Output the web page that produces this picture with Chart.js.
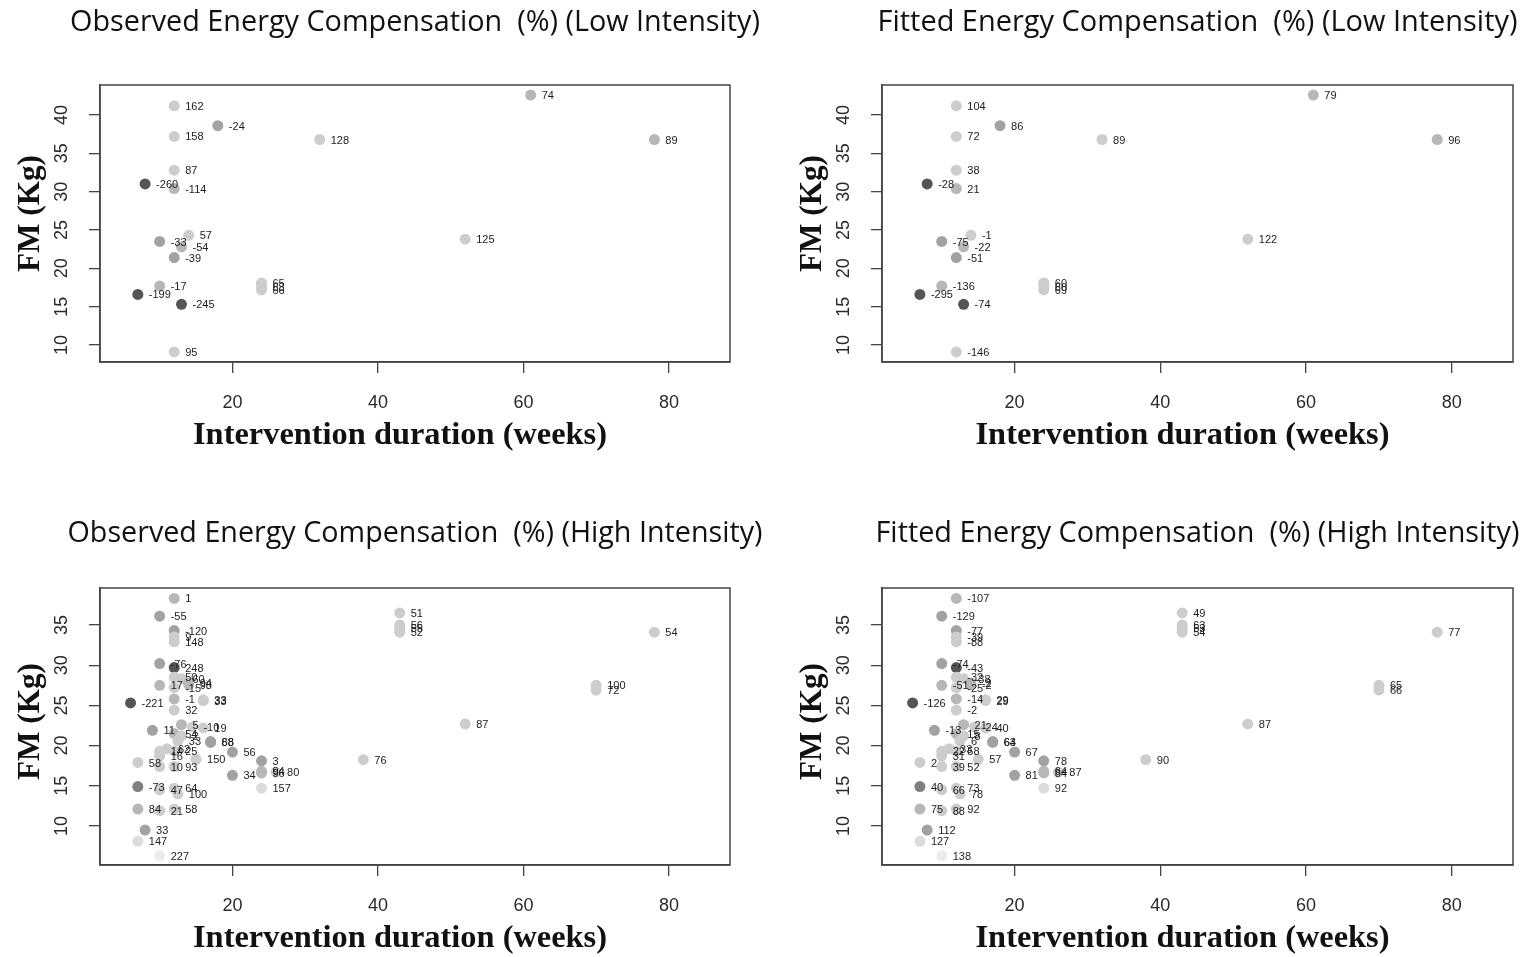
<!DOCTYPE html>
<html>
<head>
<meta charset="utf-8">
<script src="https://cdn.jsdelivr.net/npm/chart.js@4.4.1/dist/chart.umd.min.js"></script>
<style>
html,body{margin:0;padding:0;background:#fff;}
#wrap{position:relative;width:1529px;height:957px;overflow:hidden;background:#fff;}
#wrap canvas{position:absolute;}
</style>
</head>
<body>
<div id="wrap">
<canvas id="c1" width="765" height="478" style="left:0;top:0"></canvas>
<canvas id="c2" width="764" height="478" style="left:765px;top:0"></canvas>
<canvas id="c3" width="765" height="479" style="left:0;top:478px"></canvas>
<canvas id="c4" width="764" height="479" style="left:765px;top:478px"></canvas>
</div>
<script>
// ---------------- DATA ----------------
const xTicks = [20, 40, 60, 80];
const yTicksLow = [10, 15, 20, 25, 30, 35, 40];
const yTicksHigh = [10, 15, 20, 25, 30, 35];

// Low intensity studies
const lowDuration = [12, 18, 12, 12, 8, 12, 14, 10, 13, 12, 10, 7, 13, 12, 24, 24, 24, 61, 32, 78, 52];
const lowFM = [41.2, 38.6, 37.2, 32.8, 31.0, 30.4, 24.3, 23.5, 22.8, 21.4, 17.7, 16.6, 15.3, 9.1, 18.1, 17.6, 17.2, 42.6, 36.8, 36.8, 23.8];
const lowShadeLevel = [4, 2, 4, 4, 0, 3, 4, 2, 3, 2, 3, 0, 0, 4, 4, 4, 4, 3, 4, 3, 4];
const lowObserved = ['162', '-24', '158', '87', '-260', '-114', '57', '-33', '-54', '-39', '-17', '-199', '-245', '95', '65', '63', '66', '74', '128', '89', '125'];
const lowFitted = ['104', '86', '72', '38', '-28', '21', '-1', '-75', '-22', '-51', '-136', '-295', '-74', '-146', '60', '60', '69', '79', '89', '96', '122'];

// High intensity studies
const highDuration = [12, 10, 12, 12, 12, 10, 12, 12, 13, 14, 14, 10, 12, 6, 12, 16, 16, 12,
  9, 13, 14.5, 16, 12, 13, 12.5, 17, 17, 20, 20, 10, 11, 12, 10, 10, 12, 15, 7, 7, 10, 12, 12.5,
  7, 10, 12, 8, 7, 10, 43, 43, 43, 43, 78, 70, 70, 52, 38, 24, 24, 24, 26, 24];
const highFM = [38.3, 36.1, 34.3, 33.5, 32.9, 30.2, 29.7, 28.5, 28.3, 27.8, 27.6, 27.5, 27.2, 25.3, 25.8, 25.7, 25.6, 24.4,
  21.9, 22.6, 22.3, 22.2, 21.5, 21.2, 20.6, 20.5, 20.4, 19.2, 16.3, 19.3, 19.6, 19.3, 18.7, 17.4, 17.4, 18.3, 17.9, 14.9, 14.5, 14.7, 14.0,
  12.1, 11.9, 12.1, 9.5, 8.1, 6.3, 36.5, 35.0, 34.6, 34.1, 34.1, 27.5, 26.9, 22.7, 18.25, 18.1, 16.8, 16.6, 16.7, 14.7];
const highShadeLevel = [3, 2, 2, 4, 4, 2, 0, 4, 4, 3, 3, 3, 4, 0, 3, 4, 4, 4,
  2, 3, 4, 4, 3, 4, 4, 2, 2, 2, 2, 4, 4, 4, 4, 4, 4, 4, 4, 1, 4, 4, 4,
  3, 4, 4, 2, 5, 6, 4, 4, 4, 4, 4, 4, 4, 4, 4, 2, 3, 3, 4, 5];
const highObserved = ['1', '-55', '-120', '9', '148', '-76', '248', '50', '60', '94', '98', '17', '-15', '-221', '-1', '33', '33', '32',
  '11', '5', '-10', '19', '54', '2', '33', '68', '88', '56', '34', '14', '62', '25', '16', '10', '93', '150', '58', '-73', '47', '64', '100',
  '84', '21', '58', '33', '147', '227', '51', '56', '55', '52', '54', '100', '72', '87', '76', '3', '94', '96', '80', '157'];
const highFitted = ['-107', '-129', '-77', '-39', '-88', '-74', '-43', '-32', '-38', '-2', '-2', '-51', '-25', '-126', '-14', '29', '29', '-2',
  '-13', '21', '24', '40', '15', '8', '6', '63', '64', '67', '81', '22', '33', '58', '31', '39', '52', '57', '2', '40', '66', '73', '78',
  '75', '88', '92', '112', '127', '138', '49', '63', '53', '54', '77', '65', '66', '87', '90', '78', '64', '84', '87', '92'];

// ---------------- STYLE ----------------
const shadeColors = ['#555555', '#7f7f7f', '#a2a2a2', '#b7b7b7', '#cdcdcd', '#dcdcdc', '#ececec'];
const xRange = [1.8, 88.4];
const yRangeLow = [7.78, 43.91];
const yRangeHigh = [5.15, 39.6];
const xTitleText = 'Intervention duration (weeks)';
const yTitleText = 'FM (Kg)';

const panels = [
  {id: 'c1', canvas: [0, 0, 765, 478], box: [100, 85, 730, 362], titleY: 22, titleW: 690, yTitleShift: -10,
   title: 'Observed Energy Compensation  (%) (Low Intensity)', x: lowDuration, y: lowFM, shade: lowShadeLevel, labels: lowObserved, yTicks: yTicksLow, yRange: yRangeLow},
  {id: 'c2', canvas: [765, 0, 764, 478], box: [882, 85, 1513, 362], titleY: 22, titleW: 640, yTitleShift: -10,
   title: 'Fitted Energy Compensation  (%) (Low Intensity)', x: lowDuration, y: lowFM, shade: lowShadeLevel, labels: lowFitted, yTicks: yTicksLow, yRange: yRangeLow},
  {id: 'c3', canvas: [0, 478, 765, 479], box: [100, 588, 730, 865], titleY: 533, titleW: 695, yTitleShift: -5,
   title: 'Observed Energy Compensation  (%) (High Intensity)', x: highDuration, y: highFM, shade: highShadeLevel, labels: highObserved, yTicks: yTicksHigh, yRange: yRangeHigh},
  {id: 'c4', canvas: [765, 478, 764, 479], box: [882, 588, 1513, 865], titleY: 533, titleW: 644, yTitleShift: -5,
   title: 'Fitted Energy Compensation  (%) (High Intensity)', x: highDuration, y: highFM, shade: highShadeLevel, labels: highFitted, yTicks: yTicksHigh, yRange: yRangeHigh}
];

function drawFitted(ctx, text, font, width) {
  ctx.font = font;
  const w = ctx.measureText(text).width;
  ctx.scale(width / w, 1);
  ctx.textAlign = 'center';
  ctx.textBaseline = 'middle';
  ctx.fillText(text, 0, 0);
}

function makePanel(p) {
  const [cx, cy, cw, ch] = p.canvas;
  const [bl, bt, br, bb] = p.box;
  const pts = p.x.map((v, i) => ({x: v, y: p.y[i]}));
  const cols = p.shade.map(s => shadeColors[s]);
  const xAxisH = ch - (bb - cy);
  const yAxisW = bl - cx;

  const labelPlugin = {
    id: 'ptLabels',
    afterDatasetsDraw(chart) {
      const ctx = chart.ctx;
      const meta = chart.getDatasetMeta(0);
      ctx.save();
      ctx.font = '11px "Liberation Sans", Arial, sans-serif';
      ctx.fillStyle = '#1c1c1c';
      ctx.textAlign = 'left';
      ctx.textBaseline = 'middle';
      meta.data.forEach((el, i) => ctx.fillText(p.labels[i], el.x + 11, el.y + 1));
      ctx.restore();
    }
  };
  const framePlugin = {
    id: 'frame',
    afterDraw(chart) {
      const a = chart.chartArea, ctx = chart.ctx;
      ctx.save();
      ctx.strokeStyle = '#444';
      ctx.lineWidth = 1.5;
      ctx.strokeRect(a.left, a.top, a.right - a.left, a.bottom - a.top);
      ctx.restore();
      // main title
      ctx.save();
      ctx.fillStyle = '#111';
      ctx.translate((a.left + a.right) / 2, p.titleY - cy);
      drawFitted(ctx, p.title, '30px "Open Sans", Lato, sans-serif', p.titleW);
      ctx.restore();
      // x axis title
      ctx.save();
      ctx.fillStyle = '#111';
      ctx.translate((a.left + a.right) / 2 - 15, a.bottom + 74);
      drawFitted(ctx, xTitleText, 'bold 31px "Liberation Serif", "Times New Roman", serif', 414);
      ctx.restore();
      // y axis title
      ctx.save();
      ctx.fillStyle = '#111';
      ctx.translate(a.left - 69, (a.top + a.bottom) / 2 + p.yTitleShift);
      ctx.rotate(-Math.PI / 2);
      drawFitted(ctx, yTitleText, 'bold 31px "Liberation Serif", "Times New Roman", serif', 117);
      ctx.restore();
    }
  };

  new Chart(document.getElementById(p.id), {
    type: 'scatter',
    data: {datasets: [{data: pts, backgroundColor: cols, borderColor: cols, borderWidth: 0, pointRadius: 5.5, pointHoverRadius: 5.5}]},
    options: {
      responsive: false, animation: false, devicePixelRatio: 1, events: [],
      layout: {padding: {top: bt - cy, right: cx + cw - br, left: 0, bottom: 0}},
      plugins: {legend: {display: false}, tooltip: {enabled: false}, title: {display: false}},
      scales: {
        x: {
          type: 'linear', position: 'bottom', min: xRange[0], max: xRange[1],
          afterBuildTicks: s => { s.ticks = xTicks.map(v => ({value: v})); },
          afterFit: s => { s.height = xAxisH; },
          grid: {display: true, drawOnChartArea: false, drawTicks: true, tickLength: 11, color: '#444', lineWidth: 1.3},
          border: {display: true, color: '#444', width: 1.5},
          ticks: {padding: 19, color: '#2a2a2a', font: {family: '"Liberation Sans", Arial, sans-serif', size: 18}, maxRotation: 0, minRotation: 0},
          title: {display: false}
        },
        y: {
          type: 'linear', position: 'left', min: p.yRange[0], max: p.yRange[1],
          afterBuildTicks: s => { s.ticks = p.yTicks.map(v => ({value: v})); },
          afterFit: s => { s.width = yAxisW; },
          grid: {display: true, drawOnChartArea: false, drawTicks: true, tickLength: 11, color: '#444', lineWidth: 1.3},
          border: {display: true, color: '#444', width: 1.5},
          ticks: {padding: 17, crossAlign: 'center', minRotation: 90, maxRotation: 90, color: '#2a2a2a',
                  font: {family: '"Liberation Sans", Arial, sans-serif', size: 18}},
          title: {display: false}
        }
      }
    },
    plugins: [labelPlugin, framePlugin]
  });
}

panels.forEach(makePanel);
</script>
</body>
</html>
